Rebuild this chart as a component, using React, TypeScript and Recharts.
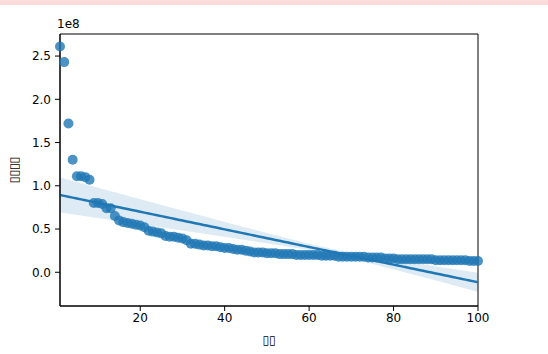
import React from 'react'
import {
  ComposedChart,
  Scatter,
  Line,
  Area,
  XAxis,
  YAxis,
  Label,
  ReferenceArea,
} from 'recharts'

// rank 1..100 (x categories)
const ranks = Array.from({ length: 100 }, (_, i) => i + 1)

// box office, in units of 1e8
const boxOffice = [
  2.61, 2.43, 1.72, 1.3, 1.11, 1.11, 1.1, 1.07, 0.8, 0.8,
  0.79, 0.74, 0.74, 0.65, 0.6, 0.58, 0.57, 0.56, 0.55, 0.54,
  0.52, 0.48, 0.47, 0.46, 0.45, 0.42, 0.41, 0.41, 0.4, 0.39,
  0.37, 0.33, 0.33, 0.32, 0.31, 0.31, 0.3, 0.3, 0.29, 0.28,
  0.28, 0.27, 0.26, 0.26, 0.25, 0.24, 0.23, 0.23, 0.23, 0.22,
  0.22, 0.22, 0.21, 0.21, 0.21, 0.21, 0.2, 0.2, 0.2, 0.2,
  0.2, 0.2, 0.19, 0.19, 0.19, 0.19, 0.18, 0.18, 0.18, 0.18,
  0.18, 0.18, 0.18, 0.17, 0.17, 0.17, 0.17, 0.16, 0.16, 0.16,
  0.15, 0.15, 0.15, 0.15, 0.15, 0.15, 0.15, 0.15, 0.15, 0.14,
  0.14, 0.14, 0.14, 0.14, 0.14, 0.14, 0.14, 0.13, 0.13, 0.13,
]

const xTicks = [20, 40, 60, 80, 100]
const yTicks = [0, 0.5, 1.0, 1.5, 2.0, 2.5]
const xDomain = [1, 100]
const yDomain = [-0.39, 2.755]
const xLabel = '▯▯'
const yLabel = '▯▯▯▯'

const BLUE = '#1f77b4'
const FONT = 'DejaVu Sans, sans-serif'

// least squares fit + robust (sandwich) band, like seaborn's regplot
function buildRows() {
  const n = ranks.length
  const xbar = ranks.reduce((s, v) => s + v, 0) / n
  const ybar = boxOffice.reduce((s, v) => s + v, 0) / n
  let sxx = 0
  let sxy = 0
  ranks.forEach((x, i) => {
    sxx += (x - xbar) ** 2
    sxy += (x - xbar) * (boxOffice[i] - ybar)
  })
  const slope = sxy / sxx
  const intercept = ybar - slope * xbar
  const resid = ranks.map((x, i) => boxOffice[i] - (intercept + slope * x))

  return ranks.map((x0, i) => {
    let v = 0
    ranks.forEach((x, j) => {
      const w = 1 / n + ((x0 - xbar) * (x - xbar)) / sxx
      v += w * w * resid[j] * resid[j]
    })
    const fit = intercept + slope * x0
    const ci = 1.96 * Math.sqrt(v)
    return { rank: x0, value: boxOffice[i], fit, band: [fit - ci, fit + ci] }
  })
}

const rows = buildRows()

const tickStyle = { fill: '#000', fontSize: 12, fontFamily: FONT }

export default function App() {
  return (
    <div style={{ position: 'absolute', left: 0, top: 0, width: 548, height: 354, background: '#fff' }}>
      <div style={{ position: 'absolute', left: 0, top: 0, width: 548, height: 5, background: '#fddcdc' }} />
      <ComposedChart
        width={548}
        height={354}
        data={rows}
        margin={{ top: 34, right: 70, bottom: 0, left: 0 }}
      >
        <XAxis
          dataKey="rank"
          type="number"
          domain={xDomain}
          ticks={xTicks}
          tick={tickStyle}
          tickSize={5}
          tickMargin={2}
          height={48}
          axisLine={{ stroke: '#000' }}
          tickLine={{ stroke: '#000' }}
        >
          <Label value={xLabel} position="insideBottom" offset={10} fill="#000" fontSize={12} fontFamily={FONT} />
        </XAxis>
        <YAxis
          type="number"
          domain={yDomain}
          ticks={yTicks}
          tickFormatter={(v: number) => v.toFixed(1)}
          tick={tickStyle}
          tickSize={5}
          tickMargin={4}
          width={60}
          axisLine={{ stroke: '#000' }}
          tickLine={{ stroke: '#000' }}
        >
          <Label value={yLabel} angle={-90} position="insideLeft" offset={14} fill="#000" fontSize={12} fontFamily={FONT} style={{ textAnchor: 'middle' }} />
          <Label
            content={(props: any) => (
              <text x={props.viewBox.x + props.viewBox.width - 3} y={props.viewBox.y - 6} fill="#000" fontSize={12} fontFamily={FONT}>
                1e8
              </text>
            )}
          />
        </YAxis>
        <Scatter
          dataKey="value"
          isAnimationActive={false}
          shape={(p: any) => <circle cx={p.cx} cy={p.cy} r={5} fill={BLUE} fillOpacity={0.8} />}
        />
        <Area
          dataKey="band"
          type="linear"
          stroke="none"
          fill={BLUE}
          fillOpacity={0.15}
          isAnimationActive={false}
        />
        <Line
          dataKey="fit"
          type="linear"
          stroke={BLUE}
          strokeWidth={2.5}
          dot={false}
          isAnimationActive={false}
        />
        <ReferenceArea
          x1={xDomain[0]}
          x2={xDomain[1]}
          y1={yDomain[0]}
          y2={yDomain[1]}
          fill="none"
          fillOpacity={0}
          stroke="#000"
          strokeWidth={1}
        />
      </ComposedChart>
    </div>
  )
}
